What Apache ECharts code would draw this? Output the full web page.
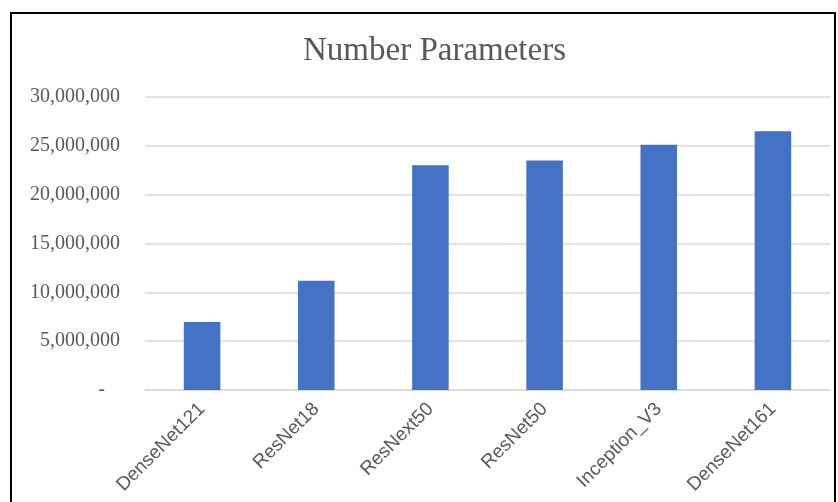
<!DOCTYPE html>
<html>
<head>
<meta charset="utf-8">
<script src="https://cdn.jsdelivr.net/npm/echarts@6/dist/echarts.min.js"></script>
<style>
  html, body { margin: 0; padding: 0; background: #fff; }
  #main { width: 838px; height: 502px; }
</style>
</head>
<body>
<div id="main"></div>
<script>
// 模型参数量
const models = ['DenseNet121', 'ResNet18', 'ResNext50', 'ResNet50', 'Inception_V3', 'DenseNet161']
const params = [6960000, 11180000, 23000000, 23500000, 25100000, 26500000]

const chart = echarts.init(document.getElementById('main'))

const option = {
  animation: false,
  backgroundColor: '#fff',
  title: {
    text: 'Number Parameters',
    left: 298,
    top: 30,
    textStyle: {
      fontFamily: 'Liberation Serif',
      fontSize: 33,
      fontWeight: 'normal',
      color: '#595959'
    }
  },
  graphic: [{
    type: 'rect',
    shape: { x: 11, y: 13, width: 824, height: 520 },
    style: { fill: 'none', stroke: '#000', lineWidth: 2 }
  }],
  grid: { left: 145, right: 8, top: 97, bottom: 112 },
  xAxis: {
    type: 'category',
    data: models,
    axisTick: { show: false },
    axisLine: { lineStyle: { color: '#d9d9d9', width: 1.5 } },
    axisLabel: {
      rotate: 45,
      interval: 0,
      margin: 16,
      fontFamily: 'Liberation Sans',
      fontSize: 19,
      color: '#595959'
    }
  },
  yAxis: {
    type: 'value',
    min: 0,
    max: 30000000,
    interval: 5000000,
    axisLine: { show: false },
    axisTick: { show: false },
    splitLine: { lineStyle: { color: '#d9d9d9', width: 1.5 } },
    axisLabel: {
      margin: 25,
      fontFamily: 'Liberation Serif',
      fontSize: 20,
      color: '#595959',
      formatter: v => v === 0 ? '-   ' : v.toLocaleString('en-US')
    }
  },
  series: [{
    type: 'bar',
    data: params,
    barWidth: '32%',
    itemStyle: { color: '#4472c4' }
  }]
}

chart.setOption(option)
</script>
</body>
</html>
